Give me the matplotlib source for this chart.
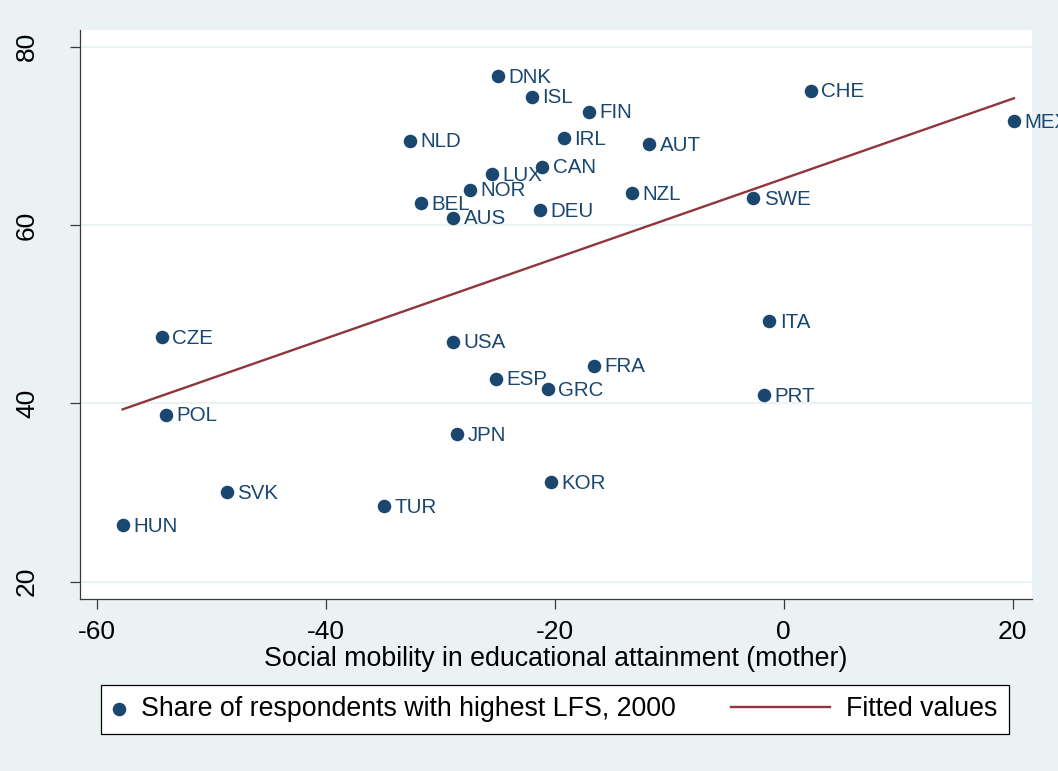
import numpy as np
import matplotlib
matplotlib.use("Agg")
import matplotlib.pyplot as plt
from matplotlib.legend_handler import HandlerPathCollection

plt.rcParams.update({'font.family': 'Liberation Sans', 'axes.unicode_minus': False})

navy = '#1A476F'
maroon = '#90353B'
bg = '#EAF2F3'

countries = ['DNK', 'ISL', 'FIN', 'CHE', 'MEX', 'NLD', 'IRL', 'AUT', 'CAN', 'LUX',
             'NOR', 'NZL', 'BEL', 'SWE', 'AUS', 'DEU', 'ITA', 'CZE', 'USA', 'FRA',
             'ESP', 'GRC', 'PRT', 'POL', 'JPN', 'KOR', 'SVK', 'TUR', 'HUN']
mobility = [-24.98, -22.01, -16.98, 2.39, 20.12, -32.64, -19.21, -11.74, -21.08, -25.45,
            -27.40, -13.27, -31.68, -2.65, -28.86, -21.31, -1.25, -54.30, -28.88, -16.54,
            -25.10, -20.61, -1.69, -53.95, -28.51, -20.35, -48.65, -34.91, -57.74]
share_lfs = [76.71, 74.39, 72.71, 75.07, 71.63, 69.46, 69.73, 69.09, 66.54, 65.69,
             63.96, 63.56, 62.44, 63.00, 60.82, 61.65, 49.20, 47.41, 46.92, 44.22,
             42.77, 41.61, 40.94, 38.73, 36.53, 31.18, 30.06, 28.49, 26.36]
xticks = [-60, -40, -20, 0, 20]
yticks = [20, 40, 60, 80]


class NarrowMarkerHandler(HandlerPathCollection):
    # keep the marker entry compact so its text sits close to the dot
    def legend_artist(self, legend, orig_handle, fontsize, handlebox):
        handlebox.width = 0.45 * fontsize
        return super().legend_artist(legend, orig_handle, fontsize, handlebox)


x = np.array(mobility)
y = np.array(share_lfs)
slope, intercept = np.polyfit(x, y, 1)
xfit = np.array([x.min(), x.max()])
yfit = intercept + slope * xfit

fig = plt.figure(figsize=(10.58, 7.71), dpi=100, facecolor=bg)
ax = fig.add_axes([0.0753, 0.2235, 0.8998, 0.7376])
ax.set_facecolor('white')

for yt in yticks:
    ax.axhline(yt, color=bg, lw=1.6, zorder=0)

pts = ax.scatter(x, y, s=95, color=navy, zorder=3, linewidths=0,
                 label='Share of respondents with highest LFS, 2000')
for c, xi, yi in zip(countries, x, y):
    ax.annotate(c, (xi, yi), xytext=(7.5, -0.8), textcoords='offset points',
                ha='left', va='center', fontsize=14.8, color=navy, zorder=4)
fit_line, = ax.plot(xfit, yfit, color=maroon, lw=1.7, zorder=2, label='Fitted values')

ax.set_xlim(-61.494, 21.668)
ax.set_ylim(18.093, 81.873)
ax.set_xticks(xticks)
ax.set_yticks(yticks)
ax.spines['top'].set_visible(False)
ax.spines['right'].set_visible(False)
for s in ['left', 'bottom']:
    ax.spines[s].set_color('#3a3a3a')
    ax.spines[s].set_linewidth(0.9)
ax.tick_params(direction='out', length=7.2, width=0.9, color='#3a3a3a', labelsize=19)
ax.tick_params(axis='x', pad=8)
ax.tick_params(axis='y', pad=22)
plt.setp(ax.get_yticklabels(), rotation=90, va='center')

ax.set_xlabel('Social mobility in educational attainment (mother)', fontsize=19.3, labelpad=1.5)

leg = fig.legend([pts, fit_line],
                 ['Share of respondents with highest LFS, 2000', 'Fitted values'],
                 handler_map={pts: NarrowMarkerHandler()},
                 loc='center', mode='expand', ncol=2, scatterpoints=1,
                 bbox_to_anchor=(101 / 1058, 37 / 771, 908 / 1058, 49 / 771),
                 bbox_transform=fig.transFigure, borderaxespad=0, borderpad=0.43,
                 handlelength=3.7, handletextpad=0.6, fontsize=19.3,
                 fancybox=False, framealpha=1, edgecolor='black')
leg.get_frame().set_linewidth(0.9)

fig.savefig('out.png', dpi=100, facecolor=bg)
